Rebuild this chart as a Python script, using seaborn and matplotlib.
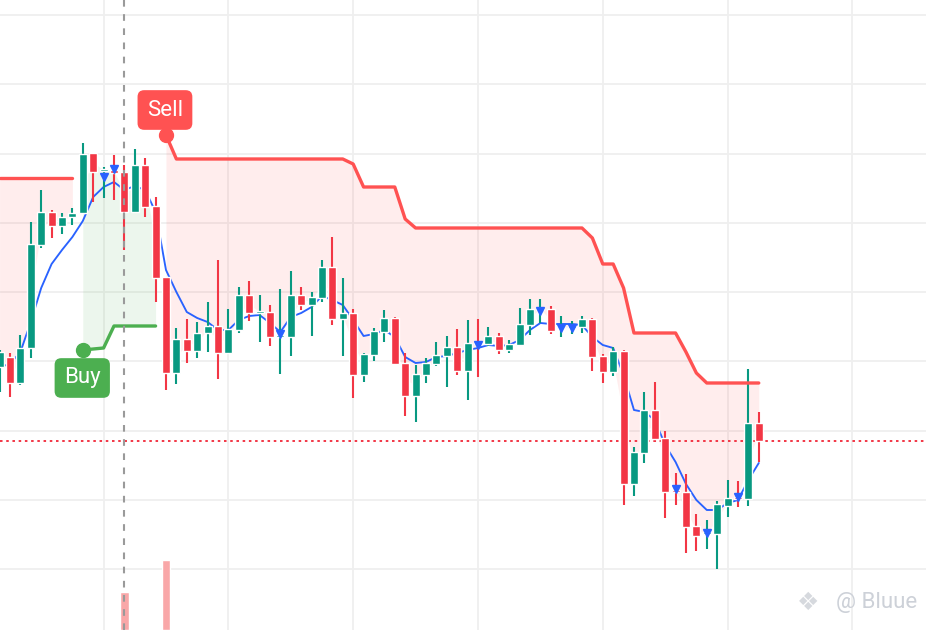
import numpy as np
import pandas as pd
import matplotlib
matplotlib.use("Agg")
import matplotlib.pyplot as plt
import seaborn as sns

# candle data (arbitrary price units, one bar per candle)
opens = [26.3, 27.3, 24.7, 28.2, 38.5, 41.8, 40.4, 41.3, 41.7, 47.7,
         45.9, 46.0, 45.8, 41.8, 46.5, 42.4, 35.3, 25.7, 29.1, 27.9,
         29.7, 30.4, 27.7, 30.0, 33.5, 31.7, 31.8, 29.3, 29.3, 33.5,
         32.5, 33.2, 36.3, 31.1, 31.7, 25.5, 27.5, 29.8, 31.2, 26.7,
         23.4, 25.5, 26.6, 27.4, 28.3, 25.9, 28.8, 28.6, 29.4, 28.0,
         28.5, 30.5, 32.0, 32.1, 30.2, 30.2, 30.3, 31.1, 27.4, 25.8,
         27.9, 14.6, 17.7, 22.0, 19.2, 14.0, 13.8, 10.4, 9.6, 9.6,
         12.4, 13.3, 13.1, 20.7]
highs = [28.0, 27.7, 29.5, 40.8, 44.0, 42.0, 41.7, 42.2, 48.7, 47.7,
         46.3, 47.5, 46.5, 48.1, 47.2, 43.3, 35.3, 30.2, 31.1, 30.8,
         32.8, 37.0, 32.1, 34.3, 34.9, 33.5, 32.5, 34.1, 35.9, 34.3,
         33.8, 37.0, 39.3, 35.2, 32.1, 27.7, 30.2, 32.0, 31.3, 27.7,
         26.5, 27.2, 28.8, 29.4, 30.1, 31.0, 31.1, 30.3, 29.7, 29.0,
         32.2, 33.1, 33.1, 32.4, 31.4, 30.9, 31.4, 31.2, 27.6, 28.3,
         28.0, 18.3, 23.8, 24.8, 19.9, 15.7, 15.6, 11.6, 11.0, 12.9,
         15.0, 14.9, 26.1, 21.8]
lows = [23.8, 23.3, 24.5, 27.2, 38.2, 39.2, 39.6, 40.5, 41.7, 42.8,
        43.2, 43.0, 38.0, 41.8, 41.3, 32.8, 24.0, 24.6, 26.7, 27.2,
        27.8, 25.1, 27.7, 29.7, 30.9, 28.8, 28.4, 25.6, 27.4, 32.0,
        29.4, 32.8, 30.5, 27.4, 23.2, 24.8, 26.9, 28.8, 26.5, 21.4,
        20.8, 24.7, 26.4, 24.3, 25.5, 23.0, 25.3, 28.4, 27.6, 27.7,
        28.5, 29.5, 30.7, 29.6, 29.3, 29.6, 29.7, 25.9, 24.7, 25.4,
        12.5, 13.4, 16.7, 18.8, 11.2, 12.5, 7.7, 7.9, 8.1, 6.1,
        11.3, 12.3, 12.4, 16.8]
closes = [27.8, 24.7, 28.2, 38.6, 41.8, 40.4, 41.3, 41.7, 47.6, 45.8,
          46.1, 45.7, 41.8, 46.5, 42.3, 35.2, 25.7, 29.1, 27.9, 29.7,
          30.4, 27.7, 30.1, 33.5, 31.7, 31.9, 29.3, 29.5, 33.5, 32.5,
          33.3, 36.3, 31.1, 31.7, 25.5, 27.6, 29.9, 31.2, 26.6, 23.4,
          25.6, 26.7, 27.5, 28.3, 25.9, 28.7, 28.6, 29.4, 28.0, 28.6,
          30.6, 32.1, 32.2, 29.9, 30.3, 30.4, 31.1, 27.3, 25.8, 27.9,
          14.6, 17.8, 22.0, 19.1, 13.8, 13.8, 10.3, 9.4, 9.8, 12.6,
          13.2, 13.1, 20.7, 18.9]

# blue moving average
basis = [26.3, 26.6, 27.8, 30.8, 34.2, 36.6, 38.0, 39.3, 40.9, 43.3,
         44.3, 44.8, 44.0, 44.4, 44.0, 41.8, 36.0, 33.8, 31.8, 31.2,
         30.8, 30.0, 30.0, 31.0, 31.4, 31.5, 30.7, 29.8, 31.3, 31.7,
         32.3, 33.4, 33.0, 32.5, 31.0, 29.4, 29.6, 30.0, 29.3, 27.3,
         26.7, 26.8, 27.3, 27.4, 27.7, 28.0, 28.2, 28.5, 28.4, 28.5,
         29.0, 30.0, 30.7, 30.6, 30.6, 30.6, 30.5, 29.3, 28.5, 28.2,
         25.5, 22.0, 21.8, 21.0, 18.5, 16.8, 14.6, 13.0, 12.0, 12.0,
         12.7, 13.0, 15.0, 16.7]

# supertrend bands (nan = inactive)
nan = np.nan
down_band = [45.2, 45.2, 45.2, 45.2, 45.2, 45.2, 45.2, 45.2, nan, nan,
             nan, nan, nan, nan, nan, nan, 49.5, 47.1, 47.1, 47.1,
             47.1, 47.1, 47.1, 47.1, 47.1, 47.1, 47.1, 47.1, 47.1, 47.1,
             47.1, 47.1, 47.1, 47.1, 46.6, 44.3, 44.3, 44.3, 44.3, 41.1,
             40.2, 40.2, 40.2, 40.2, 40.2, 40.2, 40.2, 40.2, 40.2, 40.2,
             40.2, 40.2, 40.2, 40.2, 40.2, 40.2, 40.2, 39.2, 36.6, 36.6,
             34.2, 29.7, 29.7, 29.7, 29.7, 29.7, 27.8, 25.7, 24.7, 24.7,
             24.7, 24.7, 24.7, 24.7]
up_band = [nan, nan, nan, nan, nan, nan, nan, nan, 28.0, 28.1,
           28.2, 30.4, 30.4, 30.4, 30.4, 30.4] + [nan] * 58

# small blue markers
tri_idx = [10, 11, 27, 46, 52, 54, 55, 65, 68, 71]
tri_val = [45.3, 46.1, 29.6, 28.5, 31.9, 30.2, 30.2, 14.1, 9.7, 13.3]

# signal histogram at the bottom
sig_idx = [12, 16]
sig_val = [3.8, 7.0]

buy_idx, sell_idx = 8, 16

GREEN = "#089981"
RED = "#f23645"

df = pd.DataFrame({"bar": np.arange(len(opens)), "open": opens, "high": highs,
                   "low": lows, "close": closes, "basis": basis,
                   "dn": down_band, "up": up_band})
df["mid"] = (df["open"] + df["close"]) / 2
df["col"] = np.where(df["close"] >= df["open"], GREEN, RED)

sns.set_theme(style="white")
plt.rcParams["font.family"] = ["Roboto", "DejaVu Sans"]

fig = plt.figure(figsize=(9.26, 6.3), dpi=100)
ax = fig.add_axes([0, 0, 1, 1])

# fills between band and candle body middle
for seg in [(0, 8), (16, 74)]:
    s = df.iloc[seg[0]:seg[1]]
    ax.fill_between(s["bar"], s["dn"], s["mid"], color=(1, 0.32, 0.32, 0.1), lw=0, zorder=1)
    sns.lineplot(data=s, x="bar", y="dn", color="#ff5252", lw=2.4, ax=ax, zorder=5)
s = df.iloc[8:16]
ax.fill_between(s["bar"], s["up"], s["mid"], color=(0.3, 0.69, 0.31, 0.1), lw=0, zorder=1)
sns.lineplot(data=s, x="bar", y="up", color="#4caf50", lw=2.4, ax=ax, zorder=5)

ax.bar(sig_idx, sig_val, width=0.85, color="#f9a7a8", zorder=2)

sns.lineplot(data=df, x="bar", y="basis", color="#2962ff", lw=1.35, ax=ax, zorder=3)

ax.axhline(df["close"].iloc[-1], color=RED, lw=1.4, ls=(0, (1.3, 1.9)), zorder=3.5)

# candles
ax.vlines(df["bar"], df["low"], df["high"], colors=df["col"], lw=1.5, zorder=4)
body = np.maximum((df["close"] - df["open"]).abs(), 0.15)
ax.bar(df["bar"], body, bottom=np.minimum(df["open"], df["close"]), width=0.78,
       color=df["col"], zorder=4)

ax.plot(tri_idx, tri_val, "v", color="#2962ff", ms=5.5, zorder=6)

ax.axvline(12, color="#9a9a9a", lw=1.5, ls=(0, (3.2, 3.6)), zorder=6)

# buy / sell labels
ax.text(sell_idx - 0.1, 52.0, "Sell", ha="center", va="center", color="white", fontsize=16,
        bbox=dict(boxstyle="round,pad=0.42,rounding_size=0.3", fc="#ff5252", ec="none"), zorder=8)
ax.plot(sell_idx, down_band[sell_idx], "o", ms=10, color="#ff5252", zorder=8)
ax.text(buy_idx - 0.05, 25.2, "Buy", ha="center", va="center", color="white", fontsize=16,
        bbox=dict(boxstyle="round,pad=0.42,rounding_size=0.3", fc="#4caf50", ec="none"), zorder=8)
ax.plot(buy_idx, up_band[buy_idx], "o", ms=10, color="#4caf50", zorder=8)

# watermark
ax.text(0.991, 0.043, "@ Bluue", transform=ax.transAxes, ha="right", va="center",
        fontsize=16, color="#cdd1d8", zorder=9)
ax.text(0.873, 0.043, "\u2756", transform=ax.transAxes, ha="center", va="center",
        fontsize=18, color="#d6d9de", family="DejaVu Sans", zorder=9)

ax.set_xlim(0.04, 89.08)
ax.set_ylim(0, 63)
ax.set_xticks(np.arange(10, 89, 12))
ax.set_yticks(6.1 + 6.925 * np.arange(9))
ax.grid(True, color="#efefef", lw=1.3)
ax.set_axisbelow(True)
ax.tick_params(length=0, labelleft=False, labelbottom=False)
ax.set_xlabel("")
ax.set_ylabel("")
for sp in ax.spines.values():
    sp.set_visible(False)

fig.savefig("out.png", dpi=100)
